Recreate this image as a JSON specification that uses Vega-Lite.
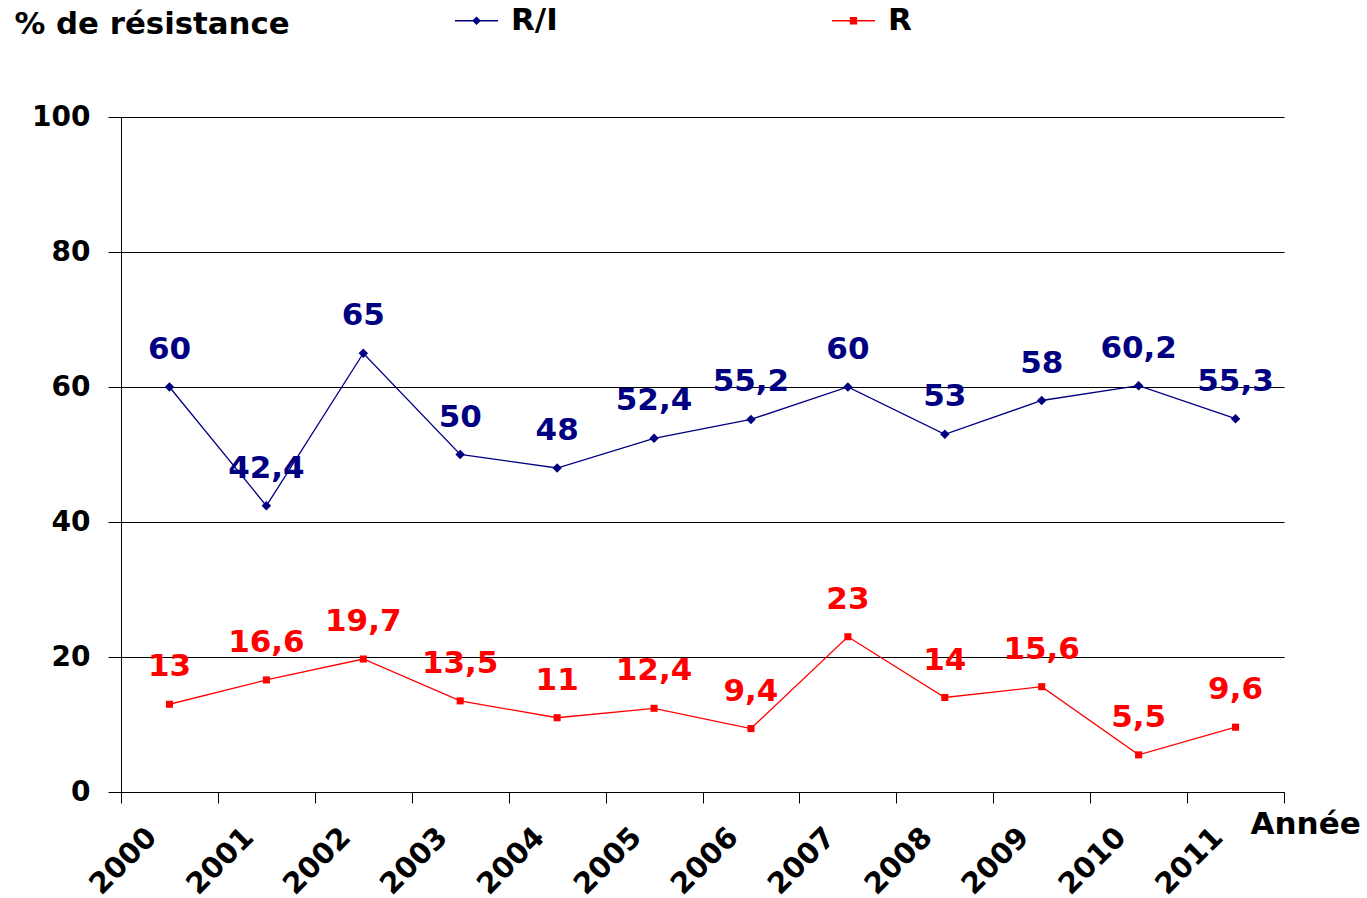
{
  "$schema": "https://vega.github.io/schema/vega-lite/v6.json",
  "width": 1163,
  "height": 675,
  "autosize": "none",
  "padding": {"left": 121, "top": 117, "right": 83, "bottom": 106},
  "background": "white",
  "data": {
    "values": [
      {"annee": "2000", "serie": "R/I", "valeur": 60, "label": "60"},
      {"annee": "2001", "serie": "R/I", "valeur": 42.4, "label": "42,4"},
      {"annee": "2002", "serie": "R/I", "valeur": 65, "label": "65"},
      {"annee": "2003", "serie": "R/I", "valeur": 50, "label": "50"},
      {"annee": "2004", "serie": "R/I", "valeur": 48, "label": "48"},
      {"annee": "2005", "serie": "R/I", "valeur": 52.4, "label": "52,4"},
      {"annee": "2006", "serie": "R/I", "valeur": 55.2, "label": "55,2"},
      {"annee": "2007", "serie": "R/I", "valeur": 60, "label": "60"},
      {"annee": "2008", "serie": "R/I", "valeur": 53, "label": "53"},
      {"annee": "2009", "serie": "R/I", "valeur": 58, "label": "58"},
      {"annee": "2010", "serie": "R/I", "valeur": 60.2, "label": "60,2"},
      {"annee": "2011", "serie": "R/I", "valeur": 55.3, "label": "55,3"},
      {"annee": "2000", "serie": "R", "valeur": 13, "label": "13"},
      {"annee": "2001", "serie": "R", "valeur": 16.6, "label": "16,6"},
      {"annee": "2002", "serie": "R", "valeur": 19.7, "label": "19,7"},
      {"annee": "2003", "serie": "R", "valeur": 13.5, "label": "13,5"},
      {"annee": "2004", "serie": "R", "valeur": 11, "label": "11"},
      {"annee": "2005", "serie": "R", "valeur": 12.4, "label": "12,4"},
      {"annee": "2006", "serie": "R", "valeur": 9.4, "label": "9,4"},
      {"annee": "2007", "serie": "R", "valeur": 23, "label": "23"},
      {"annee": "2008", "serie": "R", "valeur": 14, "label": "14"},
      {"annee": "2009", "serie": "R", "valeur": 15.6, "label": "15,6"},
      {"annee": "2010", "serie": "R", "valeur": 5.5, "label": "5,5"},
      {"annee": "2011", "serie": "R", "valeur": 9.6, "label": "9,6"}
    ]
  },
  "encoding": {
    "x": {
      "field": "annee",
      "type": "ordinal",
      "scale": {"type": "band", "paddingInner": 0, "paddingOuter": 0},
      "axis": {
        "title": "Année",
        "titleFont": "DejaVu Sans",
        "titleFontWeight": "bold",
        "titleFontSize": 31,
        "titleColor": "black",
        "titleX": 1129,
        "titleY": 41,
        "titleAlign": "left",
        "titleBaseline": "alphabetic",
        "labelAngle": -45,
        "labelAlign": "right",
        "labelBaseline": "middle",
        "labelOffset": -18,
        "labelPadding": 29,
        "labelFont": "DejaVu Sans",
        "labelFontWeight": "bold",
        "labelFontSize": 29,
        "labelColor": "black",
        "tickBand": "extent",
        "tickSize": 11,
        "tickColor": "black",
        "domainColor": "black",
        "grid": false
      }
    },
    "y": {
      "field": "valeur",
      "type": "quantitative",
      "scale": {"domain": [0, 100], "nice": false},
      "axis": {
        "values": [0, 20, 40, 60, 80, 100],
        "title": "% de résistance",
        "titleAngle": 0,
        "titleX": -107,
        "titleY": -84,
        "titleAlign": "left",
        "titleBaseline": "alphabetic",
        "titleFont": "DejaVu Sans",
        "titleFontWeight": "bold",
        "titleFontSize": 30.8,
        "titleColor": "black",
        "labelFont": "DejaVu Sans",
        "labelFontWeight": "bold",
        "labelFontSize": 28,
        "labelColor": "black",
        "labelPadding": 18,
        "tickSize": 13,
        "tickColor": "black",
        "domainColor": "black",
        "grid": true,
        "gridColor": "black",
        "gridOpacity": 1,
        "gridWidth": 1
      }
    }
  },
  "layer": [
    {
      "mark": {"type": "line", "strokeWidth": 1.3},
      "encoding": {
        "color": {
          "field": "serie",
          "type": "nominal",
          "scale": {"domain": ["R/I", "R"], "range": ["#000080", "#FF0000"]},
          "legend": {
            "orient": "none",
            "legendX": 334,
            "legendY": -118,
            "direction": "horizontal",
            "title": null,
            "padding": 0,
            "symbolSize": 1849,
            "symbolStrokeWidth": 0,
            "labelFont": "DejaVu Sans",
            "labelFontWeight": "bold",
            "labelFontSize": 31,
            "labelColor": "black",
            "labelOffset": 13,
            "columnPadding": 274,
            "encode": {
              "symbols": {
                "update": {
                  "shape": {"signal": "datum.value === 'R' ? 'M-1,-0.03L1,-0.03L1,0.03L-1,0.03ZM-0.17,-0.17L0.17,-0.17L0.17,0.17L-0.17,0.17Z' : 'M-1,-0.03L1,-0.03L1,0.03L-1,0.03ZM0,-0.2L0.2,0L0,0.2L-0.2,0Z'"},
                  "fill": {"scale": "color", "field": "value"},
                  "fillOpacity": {"value": 1},
                  "opacity": {"value": 1}
                }
              }
            }
          }
        }
      }
    },
    {
      "transform": [{"filter": "datum.serie === 'R/I'"}],
      "mark": {"type": "point", "filled": true, "opacity": 1, "shape": "diamond", "size": 90},
      "encoding": {
        "color": {"field": "serie", "type": "nominal", "legend": null}
      }
    },
    {
      "transform": [{"filter": "datum.serie === 'R'"}],
      "mark": {"type": "point", "filled": true, "opacity": 1, "shape": "square", "size": 50},
      "encoding": {
        "color": {"field": "serie", "type": "nominal", "legend": null}
      }
    },
    {
      "mark": {
        "type": "text",
        "dy": -37,
        "align": "center",
        "baseline": "middle",
        "font": "DejaVu Sans",
        "fontWeight": "bold",
        "fontSize": 31
      },
      "encoding": {
        "text": {"field": "label", "type": "nominal"},
        "color": {"field": "serie", "type": "nominal", "legend": null}
      }
    }
  ],
  "config": {
    "view": {"stroke": null}
  }
}
